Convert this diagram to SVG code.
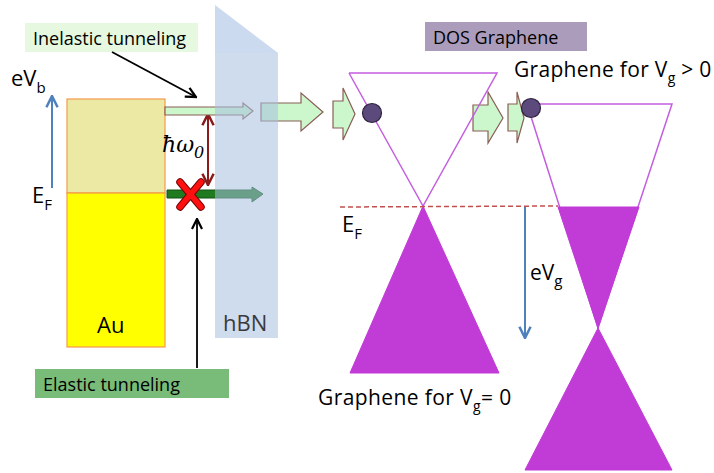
<svg xmlns="http://www.w3.org/2000/svg" width="714" height="473" viewBox="0 0 714 473">
<style>
text{font-family:"Open Sans","Liberation Sans",sans-serif;fill:#000}
.lbl{font-size:22px}
.big{font-size:21px}
.cone{fill:none;stroke:#c45ee0;stroke-width:1.5}
.fill{fill:#c13bd7;stroke:#c13bd7;stroke-width:1}
.garrow{fill:#ccf7cc;stroke:#8a5e55;stroke-width:1.2}
.dot{fill:#5c4a7c;stroke:#2e2440;stroke-width:1.2}
</style>
<defs>
<marker id="blk" viewBox="0 0 10 10" refX="9" refY="5" markerWidth="7" markerHeight="7" orient="auto"><path d="M1,1 L9,5 L1,9" fill="none" stroke="#000" stroke-width="1.8"/></marker>
<marker id="blu" viewBox="0 0 10 10" refX="9" refY="5" markerWidth="7" markerHeight="7" orient="auto"><path d="M1,1 L9,5 L1,9" fill="none" stroke="#4f81bd" stroke-width="1.8"/></marker>
<marker id="red" viewBox="0 0 10 10" refX="9" refY="5" markerWidth="7" markerHeight="7" orient="auto"><path d="M1,1 L9,5 L1,9" fill="none" stroke="#8b1a1a" stroke-width="1.8"/></marker>
</defs>
<rect width="714" height="473" fill="#fff"/>

<g id="au">
<rect x="67" y="99" width="98" height="94" fill="#ebe9a3" stroke="#f59a4a" stroke-width="1.2"/>
<rect x="67" y="193" width="98" height="154" fill="#ffff00" stroke="#f59a4a" stroke-width="1.2"/>
<text x="97" y="333" style="font-size:22px">Au</text>
</g>

<g id="inelastic-label">
<rect x="25" y="23" width="173" height="29" fill="#e6f8df"/>
<text x="33" y="45" style="font-size:18px">Inelastic tunneling</text>
</g>
<g id="elastic-label">
<rect x="35" y="369" width="194" height="29" fill="#79bb79"/>
<text x="43" y="391" style="font-size:18px">Elastic tunneling</text>
</g>

<g id="labels-left">
<text x="11" y="86" class="lbl">eV<tspan dy="7" style="font-size:15px">b</tspan></text>
<text x="32" y="203" class="lbl">E<tspan dy="7" style="font-size:15px">F</tspan></text>
<text x="162" y="152" style="font-size:22px;font-style:italic;font-family:'DejaVu Serif','Liberation Serif',serif">ħω<tspan dy="6" style="font-size:16px">0</tspan></text>
</g>

<g id="connectors">
<line x1="52" y1="188" x2="52" y2="96" stroke="#4f81bd" stroke-width="2" marker-end="url(#blu)"/>
<line x1="112" y1="52" x2="196" y2="97" stroke="#000" stroke-width="1.8" marker-end="url(#blk)"/>
<line x1="197" y1="368" x2="197" y2="219" stroke="#000" stroke-width="1.8" marker-end="url(#blk)"/>
<line x1="208" y1="150" x2="208" y2="114" stroke="#8b1a1a" stroke-width="2" marker-end="url(#red)"/>
<line x1="208" y1="150" x2="208" y2="185" stroke="#8b1a1a" stroke-width="2" marker-end="url(#red)"/>
<line x1="525" y1="207" x2="525" y2="338" stroke="#4f81bd" stroke-width="2" marker-end="url(#blu)"/>
<polygon class="garrow" points="165,107 243,107 243,103 253,111 243,119 243,115 165,115"/>
<polygon fill="#207a20" stroke="#145214" stroke-width="1" points="167,190 252,190 252,187 263,194 252,202 252,198 167,198"/>
<polygon class="garrow" points="261,103 301,103 301,93 323,112 301,131 301,121 261,121"/>
<polygon class="garrow" points="333,101 343,101 343,88 355,114 343,140 343,128 333,128"/>
<polygon class="garrow" points="473,105 488,105 488,92 503,118 488,143 488,131 473,131"/>
<polygon class="garrow" points="508,104 517,104 517,92 524,118 517,143 517,131 508,131"/>
</g>

<g id="cross">
<path d="M180,182 L201,207 M201,182 L180,207" stroke="#7a0000" stroke-width="7.5" stroke-linecap="round"/>
<path d="M180,182 L201,207 M201,182 L180,207" stroke="#ff1010" stroke-width="5.5" stroke-linecap="round"/>
</g>

<g id="hbn">
<polygon points="215,5 278,53 215,53" fill="#a8c2e4" opacity="0.6"/>
<rect x="215" y="53" width="63" height="285" fill="#a8c0e0" opacity="0.55"/>
<text x="223" y="331" style="font-size:22px;fill:#3a3a3a">hBN</text>
</g>

<g id="graphene0">
<polyline class="cone" points="349,73 497,73 423,206 349,73"/>
<polygon class="fill" points="423,206 350,373 499,373"/>
<circle class="dot" cx="372" cy="113" r="9.5"/>
<text x="318" y="405" class="big" style="letter-spacing:0.4px">Graphene for V<tspan dy="6" style="font-size:14px">g</tspan><tspan dy="-6">= 0</tspan></text>
</g>

<g id="fermi">
<line x1="340" y1="207" x2="558" y2="206" stroke="#c0504d" stroke-width="1.5" stroke-dasharray="5,3"/>
<text x="342" y="232" class="lbl">E<tspan dy="7" style="font-size:15px">F</tspan></text>
<text x="530" y="280" class="lbl" style="font-size:21px">eV<tspan dy="6" style="font-size:15px">g</tspan></text>
</g>

<g id="graphene1">
<polyline class="cone" points="527,104 672,104 598,328 527,104"/>
<polygon class="fill" points="558,207 639,207 598,328"/>
<polygon class="fill" points="598,328 525,470 672,470"/>
<circle class="dot" cx="531" cy="108" r="9.5"/>
<text x="514" y="77" class="big" style="letter-spacing:0.3px">Graphene for V<tspan dy="6" style="font-size:14px">g</tspan><tspan dy="-6"> &gt; 0</tspan></text>
</g>

<g id="dos-label">
<rect x="425" y="22" width="162" height="29" fill="#ab9cbb"/>
<text x="433" y="44" style="font-size:18px">DOS Graphene</text>
</g>
</svg>
